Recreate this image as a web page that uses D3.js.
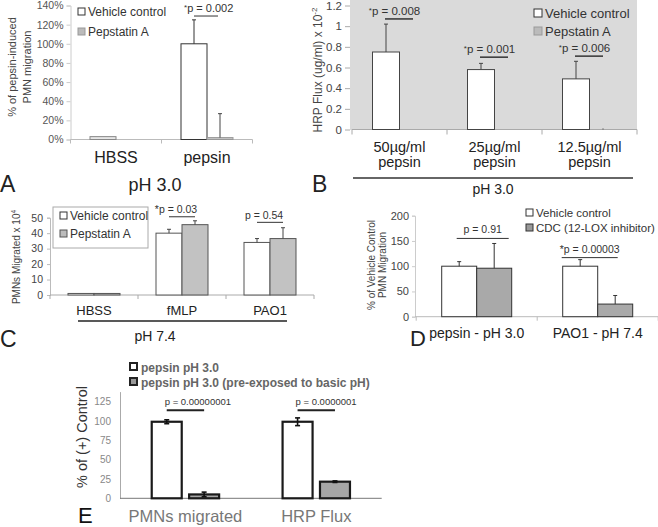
<!DOCTYPE html>
<html><head><meta charset="utf-8">
<script src="https://cdn.jsdelivr.net/npm/d3@7"></script>
<style>body{margin:0;background:#fff}svg{font-family:"Liberation Sans",Arial,sans-serif}</style>
</head><body><svg id="c" width="658" height="527"></svg>
<script>
// ---------- Panel A ----------
const aCategories = ["HBSS", "pepsin"];
const aVehicle = [3, 100];
const aVehicleErr = [0.5, 25];
const aPepstatin = [0, 2];
const aPepstatinErr = [0, 25];
const aTicks = [0, 20, 40, 60, 80, 100, 120, 140];
const aP = ["", "p = 0.002"];
// ---------- Panel B ----------
const bCategories = ["50µg/ml", "25µg/ml", "12.5µg/ml"];
const bVehicle = [0.75, 0.58, 0.49];
const bVehicleErr = [0.27, 0.06, 0.17];
const bPepstatin = [0, 0, 0];
const bPepstatinErr = [0, 0, 0.01];
const bTicks = [0, 0.2, 0.4, 0.6, 0.8, 1, 1.2];
const bP = ["p = 0.008", "p = 0.001", "p = 0.006"];
const bPLevel = [1.07, 0.70, 0.71];
// ---------- Panel C ----------
const cCategories = ["HBSS", "fMLP", "PAO1"];
const cVehicle = [1, 40, 34];
const cVehicleErr = [0, 2.5, 2.5];
const cPepstatin = [1, 45.5, 36.5];
const cPepstatinErr = [0, 2.5, 7];
const cTicks = [0, 10, 20, 30, 40, 50];
const cP = ["", "*p = 0.03", "p = 0.54"];
const cPLevel = [0, 50.6, 47];
// ---------- Panel D ----------
const dCategories = ["pepsin - pH 3.0", "PAO1 - pH 7.4"];
const dVehicle = [100, 100];
const dVehicleErr = [9, 13];
const dCDC = [96, 25];
const dCDCErr = [49, 17];
const dTicks = [0, 50, 100, 150, 200];
const dP = ["p = 0.91", "*p = 0.00003"];
const dPLevel = [155, 117];
// ---------- Panel E ----------
const eCategories = ["PMNs migrated", "HRP Flux"];
const eControl = [99, 99];
const eControlErr = [2.5, 5];
const ePreExposed = [5, 21.5];
const ePreExposedErr = [3, 1];
const eTicks = [0, 25, 50, 75, 100, 125];
const eP = ["p = 0.00000001", "p = 0.0000001"];

const svg = d3.select("#c");

function txt(g, x, y, s, size, o = {}) {
  const t = g.append("text").attr("x", x).attr("y", y).attr("font-size", size)
    .attr("fill", o.fill || "#333").text(s);
  if (o.anchor) t.attr("text-anchor", o.anchor);
  if (o.weight) t.attr("font-weight", o.weight);
  if (o.rotate) t.attr("transform", `rotate(-90,${x},${y})`);
  return t;
}
function line(g, x1, y1, x2, y2, c, w) {
  return g.append("line").attr("x1", x1).attr("y1", y1).attr("x2", x2).attr("y2", y2)
    .attr("stroke", c).attr("stroke-width", w);
}
function upErr(g, x, y0, y1, c) {
  line(g, x, y0, x, y1, c, 1);
  line(g, x - 2, y1, x + 2, y1, c, 1);
}
function styleAxis(ax, size, fill, lineColor) {
  ax.selectAll("text").attr("font-size", size).attr("fill", fill).attr("font-family", null);
  ax.selectAll("line").attr("stroke", lineColor);
  ax.select(".domain").attr("stroke", lineColor);
}
function boundaryTicks(g, x, y0, len, c) {
  const r = x.range();
  const n = x.domain().length;
  for (let i = 0; i <= n; i++) line(g, r[0] + i * x.step(), y0, r[0] + i * x.step(), y0 + len, c, 1);
}

// ================= A =================
{
  const g = svg.append("g");
  const x = d3.scaleBand().domain(aCategories).range([70.5, 252.5]);
  const y = d3.scaleLinear().domain([0, 140]).range([139.5, 5.5]);
  const bw = 26;
  const ax = g.append("g").attr("transform", "translate(70.5,0)")
    .call(d3.axisLeft(y).tickValues(aTicks).tickFormat(d => d + "%").tickSize(4).tickPadding(3));
  styleAxis(ax, 10.5, "#555", "#ccc");
  line(g, 70.5, y(0), 252.5, y(0), "#bbb", 1);
  boundaryTicks(g, x, y(0), 4, "#bbb");
  aCategories.forEach((c, i) => {
    const cx = x(c) + x.bandwidth() / 2;
    g.append("rect").attr("x", cx - bw).attr("y", y(aVehicle[i])).attr("width", bw)
      .attr("height", y(0) - y(aVehicle[i])).attr("fill", i === 0 ? "#e6e6e6" : "#fff").attr("stroke", i === 0 ? "#888" : "#333");
    if (aVehicleErr[i] > 0.6) upErr(g, cx - bw / 2, y(aVehicle[i]), y(aVehicle[i] + aVehicleErr[i]), "#333");
    if (aPepstatin[i] > 0) {
      g.append("rect").attr("x", cx).attr("y", y(aPepstatin[i])).attr("width", bw)
        .attr("height", y(0) - y(aPepstatin[i])).attr("fill", "#c4c4c4").attr("stroke", "#999");
      upErr(g, cx + bw / 2, y(aPepstatin[i]), y(aPepstatin[i] + aPepstatinErr[i]), "#444");
    }
    txt(g, cx, 163, c, 16, { anchor: "middle", fill: "#222" });
    if (aP[i]) {
      const ly = y(129);
      line(g, cx - bw / 2, ly, cx + bw / 2 - 2, ly, "#333", 1);
      const t = txt(g, cx - 23, ly - 4, "", 11);
      t.append("tspan").attr("font-size", 8).attr("dy", -2).text("*");
      t.append("tspan").attr("dy", 2).text(aP[i]);
    }
  });
  // legend
  g.append("rect").attr("x", 78).attr("y", 8).attr("width", 7).attr("height", 7).attr("fill", "#fff").attr("stroke", "#333");
  txt(g, 88, 15.5, "Vehicle control", 12);
  g.append("rect").attr("x", 78).attr("y", 28).attr("width", 7).attr("height", 7).attr("fill", "#bbb").attr("stroke", "#999");
  txt(g, 88, 35.5, "Pepstatin A", 12);
  txt(g, 12, 67, "% of pepsin-induced", 11, { anchor: "middle", rotate: true, fill: "#444" }).attr("dy", 4);
  txt(g, 27, 67, "PMN migration", 11, { anchor: "middle", rotate: true, fill: "#444" }).attr("dy", 4);
  txt(g, 155, 191, "pH 3.0", 18, { anchor: "middle", fill: "#222" });
  txt(g, 0, 192, "A", 23, { fill: "#222" });
}

// ================= B =================
{
  const g = svg.append("g");
  const x = d3.scaleBand().domain(bCategories).range([352, 637]);
  const y = d3.scaleLinear().domain([0, 1.2]).range([129.5, 5.5]);
  const bw = 27;
  g.append("rect").attr("x", 350).attr("y", 0).attr("width", 287).attr("height", 130).attr("fill", "#dadada");
  const ax = g.append("g").attr("transform", "translate(350,0)")
    .call(d3.axisLeft(y).tickValues(bTicks).tickFormat(d3.format("")).tickSize(5).tickPadding(3));
  styleAxis(ax, 11.5, "#444", "#aaa");
  ax.select(".domain").remove();
  line(g, 352, y(0), 637, y(0), "#aaa", 1);
  boundaryTicks(g, x, y(0), 5, "#aaa");
  bCategories.forEach((c, i) => {
    const cx = x(c) + x.bandwidth() / 2;
    g.append("rect").attr("x", cx - bw).attr("y", y(bVehicle[i])).attr("width", bw)
      .attr("height", y(0) - y(bVehicle[i])).attr("fill", "#fff").attr("stroke", "#444");
    upErr(g, cx - bw / 2, y(bVehicle[i]), y(bVehicle[i] + bVehicleErr[i]), "#444");
    if (bPepstatinErr[i] > 0) line(g, cx + bw / 2, y(bPepstatin[i]), cx + bw / 2, y(bPepstatin[i] + bPepstatinErr[i]), "#444", 1);
    const ly = y(bPLevel[i]);
    line(g, cx - bw / 2 - 1, ly, cx + bw / 2, ly, "#333", 1.5);
    const t = txt(g, cx - 5, ly - 4, "", 11.5, { anchor: "middle" });
    t.append("tspan").attr("font-size", 8).attr("dy", -2).text("*");
    t.append("tspan").attr("dy", 2).text(bP[i]);
    txt(g, cx, 152, c, 14.5, { anchor: "middle", fill: "#222" });
    txt(g, cx, 167, "pepsin", 14.5, { anchor: "middle", fill: "#222" });
  });
  line(g, 353, 178, 633, 178, "#333", 1.5);
  txt(g, 493, 194, "pH 3.0", 14, { anchor: "middle", fill: "#222" });
  g.append("rect").attr("x", 534).attr("y", 9).attr("width", 8).attr("height", 8).attr("fill", "#fff").attr("stroke", "#333");
  txt(g, 545, 18, "Vehicle control", 13);
  g.append("rect").attr("x", 534).attr("y", 27).attr("width", 8).attr("height", 8).attr("fill", "#bbb").attr("stroke", "#999");
  txt(g, 545, 36, "Pepstatin A", 13);
  const yt = txt(g, 318, 70, "", 12, { anchor: "middle", rotate: true, fill: "#444" }).attr("dy", 4);
  yt.append("tspan").text("HRP Flux (ug/ml) x 10");
  yt.append("tspan").attr("font-size", 8).attr("dy", -5).text("-2");
  txt(g, 312, 192, "B", 23, { fill: "#222" });
}

// ================= C =================
{
  const g = svg.append("g");
  const x = d3.scaleBand().domain(cCategories).range([50, 314]);
  const y = d3.scaleLinear().domain([0, 50]).range([295, 217.7]);
  const bw = 26;
  const ax = g.append("g").attr("transform", "translate(50,0)")
    .call(d3.axisLeft(y).tickValues(cTicks).tickSize(3).tickPadding(4));
  styleAxis(ax, 10.5, "#444", "#bbb");
  line(g, 50, y(0), 314, y(0), "#aaa", 1);
  boundaryTicks(g, x, y(0), 4, "#aaa");
  cCategories.forEach((c, i) => {
    const cx = x(c) + x.bandwidth() / 2;
    g.append("rect").attr("x", cx - bw).attr("y", y(cVehicle[i])).attr("width", bw)
      .attr("height", y(0) - y(cVehicle[i])).attr("fill", "#fff").attr("stroke", "#555");
    g.append("rect").attr("x", cx).attr("y", y(cPepstatin[i])).attr("width", bw)
      .attr("height", y(0) - y(cPepstatin[i])).attr("fill", "#c2c2c2").attr("stroke", "#555");
    if (cVehicleErr[i] > 0) upErr(g, cx - bw / 2, y(cVehicle[i]), y(cVehicle[i] + cVehicleErr[i]), "#444");
    if (cPepstatinErr[i] > 0) upErr(g, cx + bw / 2, y(cPepstatin[i]), y(cPepstatin[i] + cPepstatinErr[i]), "#444");
    if (cP[i]) {
      const ly = y(cPLevel[i]);
      line(g, cx - bw / 2, ly, cx + bw / 2, ly, "#333", 1);
      txt(g, cx - 6, ly - 3.5, cP[i], 10.5, { anchor: "middle" });
    }
    txt(g, cx, 315, c, 13, { anchor: "middle", fill: "#222" });
  });
  line(g, 78, 321, 287, 321, "#222", 1.5);
  txt(g, 155, 341, "pH 7.4", 14, { anchor: "middle", fill: "#222" });
  g.append("rect").attr("x", 53).attr("y", 207).attr("width", 95).attr("height", 41).attr("fill", "#fff").attr("stroke", "#aaa");
  g.append("rect").attr("x", 60).attr("y", 212).attr("width", 7).attr("height", 7).attr("fill", "#fff").attr("stroke", "#333");
  txt(g, 70, 219.5, "Vehicle control", 12);
  g.append("rect").attr("x", 60).attr("y", 230).attr("width", 7).attr("height", 7).attr("fill", "#bbb").attr("stroke", "#555");
  txt(g, 70, 237.5, "Pepstatin A", 12);
  const yt = txt(g, 17, 257, "", 10, { anchor: "middle", rotate: true, fill: "#444" }).attr("dy", 3);
  yt.append("tspan").text("PMNs Migrated x 10");
  yt.append("tspan").attr("font-size", 6.5).attr("dy", -4).text("4");
  txt(g, 0, 347, "C", 23, { fill: "#222" });
}

// ================= D =================
{
  const g = svg.append("g");
  const x = d3.scaleBand().domain(dCategories).range([416.2, 658.2]);
  const y = d3.scaleLinear().domain([0, 200]).range([316.7, 215.7]);
  const bw = 35;
  const ax = g.append("g").attr("transform", "translate(415,0)")
    .call(d3.axisLeft(y).tickValues(dTicks).tickSize(3).tickPadding(3));
  styleAxis(ax, 11, "#444", "#ccc");
  line(g, 415, y(0), 658, y(0), "#bbb", 1);
  boundaryTicks(g, x, y(0), 4, "#bbb");
  const pOff = [[-20, 32], [-36, 20]];
  dCategories.forEach((c, i) => {
    const cx = x(c) + x.bandwidth() / 2;
    g.append("rect").attr("x", cx - bw).attr("y", y(dVehicle[i])).attr("width", bw)
      .attr("height", y(0) - y(dVehicle[i])).attr("fill", "#fff").attr("stroke", "#333");
    g.append("rect").attr("x", cx).attr("y", y(dCDC[i])).attr("width", bw)
      .attr("height", y(0) - y(dCDC[i])).attr("fill", "#a9a9a9").attr("stroke", "#333");
    upErr(g, cx - bw / 2, y(dVehicle[i]), y(dVehicle[i] + dVehicleErr[i]), "#333");
    upErr(g, cx + bw / 2, y(dCDC[i]), y(dCDC[i] + dCDCErr[i]), "#333");
    const ly = y(dPLevel[i]);
    line(g, cx + pOff[i][0], ly, cx + pOff[i][1], ly, "#333", 1);
    txt(g, (cx * 2 + pOff[i][0] + pOff[i][1]) / 2, ly - 5, dP[i], 10.5, { anchor: "middle" });
    txt(g, cx, 338, c, 14, { anchor: "middle", fill: "#222" });
  });
  g.append("rect").attr("x", 526).attr("y", 209).attr("width", 7).attr("height", 7).attr("fill", "#fff").attr("stroke", "#333");
  txt(g, 536, 217, "Vehicle control", 11.5);
  g.append("rect").attr("x", 526).attr("y", 224).attr("width", 7).attr("height", 7).attr("fill", "#999").attr("stroke", "#333");
  txt(g, 536, 232, "CDC (12-LOX inhibitor)", 11.5);
  txt(g, 372, 265, "% of Vehicle Control", 10, { anchor: "middle", rotate: true, fill: "#444" }).attr("dy", 3);
  txt(g, 383, 265, "PMN Migration", 10, { anchor: "middle", rotate: true, fill: "#444" }).attr("dy", 3);
  txt(g, 410, 346, "D", 22, { fill: "#222" });
}

// ================= E =================
{
  const g = svg.append("g");
  const x = d3.scaleBand().domain(eCategories).range([120, 381.7]);
  const y = d3.scaleLinear().domain([0, 138]).range([498.3, 391.6]);
  const bw = 30, gap = 3.7;
  const ax = g.append("g").attr("transform", "translate(120,0)")
    .call(d3.axisLeft(y).tickValues(eTicks).tickSize(0).tickPadding(9));
  styleAxis(ax, 10, "#888", "#aaa");
  line(g, 120, y(0), 381.7, y(0), "#777", 1);
  eCategories.forEach((c, i) => {
    const cx = x(c) + x.bandwidth() / 2;
    const x1 = cx - gap - bw, x2 = cx + gap;
    g.append("rect").attr("x", x1).attr("y", y(eControl[i])).attr("width", bw)
      .attr("height", y(0) - y(eControl[i])).attr("fill", "#fff").attr("stroke", "#1a1a1a").attr("stroke-width", 2.2);
    g.append("rect").attr("x", x2).attr("y", y(ePreExposed[i])).attr("width", bw)
      .attr("height", y(0) - y(ePreExposed[i])).attr("fill", "#a6a6a6").attr("stroke", "#1a1a1a").attr("stroke-width", 2.2);
    [[x1 + bw / 2, eControl[i], eControlErr[i]], [x2 + bw / 2, ePreExposed[i], ePreExposedErr[i]]].forEach(([ex, v, e]) => {
      line(g, ex, y(v - e), ex, y(v + e), "#111", 1.6);
      line(g, ex - 2.5, y(v - e), ex + 2.5, y(v - e), "#111", 1.6);
      line(g, ex - 2.5, y(v + e), ex + 2.5, y(v + e), "#111", 1.6);
    });
    const ly = y(114);
    line(g, x1 + bw / 2, ly, x2 + bw / 2, ly, "#222", 2);
    txt(g, x1 + bw / 2 - 2, ly - 5, eP[i], 9.5, { fill: "#333" });
    txt(g, cx, 522, c, 16.5, { anchor: "middle", fill: "#777" });
  });
  g.append("rect").attr("x", 130).attr("y", 363).attr("width", 7).attr("height", 7).attr("fill", "#fff").attr("stroke", "#222").attr("stroke-width", 2);
  txt(g, 141, 372, "pepsin pH 3.0", 12, { weight: "bold", fill: "#666" });
  g.append("rect").attr("x", 130).attr("y", 378).attr("width", 7).attr("height", 7).attr("fill", "#999").attr("stroke", "#222").attr("stroke-width", 2);
  txt(g, 141, 387, "pepsin pH 3.0 (pre-exposed to basic pH)", 12, { weight: "bold", fill: "#666" });
  txt(g, 87, 437, "% of (+) Control", 14.5, { anchor: "middle", rotate: true, fill: "#333" });
  txt(g, 78, 523, "E", 22, { fill: "#111" });
}
</script></body></html>
